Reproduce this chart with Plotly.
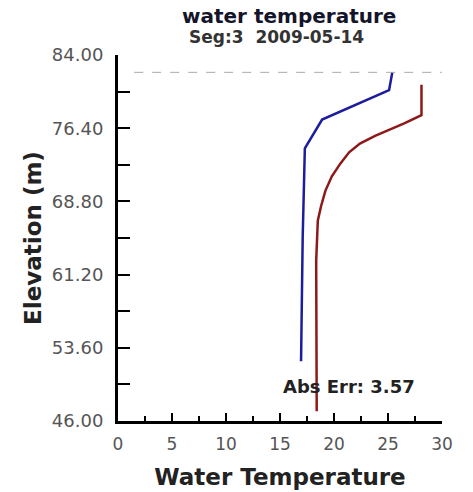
import plotly.graph_objects as go

# Data
model_temp = [25.4, 25.1, 18.9, 17.3, 17.1, 16.95]
model_elev = [82.2, 80.35, 77.3, 74.3, 65.0, 52.2]

obs_temp = [28.1, 28.1, 26.5, 25.2, 23.8, 22.4, 21.4, 20.6, 19.8, 19.2, 18.8, 18.5, 18.4, 18.35, 18.4]
obs_elev = [80.9, 77.75, 76.9, 76.3, 75.6, 74.8, 73.9, 72.75, 71.4, 69.9, 68.3, 66.8, 64.5, 62.6, 47.0]

surface_elev = 82.2
y_ticks = [46.00, 53.60, 61.20, 68.80, 76.40, 84.00]
x_ticks = [0, 5, 10, 15, 20, 25, 30]
abs_err = 3.57

FONT = "DejaVu Sans, Verdana, sans-serif"

fig = go.Figure()
fig.add_trace(go.Scatter(x=model_temp, y=model_elev, mode="lines",
                         line=dict(color="#1c1c9c", width=2.5), name="model",
                         showlegend=False))
fig.add_trace(go.Scatter(x=obs_temp, y=obs_elev, mode="lines",
                         line=dict(color="#8c1a1a", width=2.5),
                         name="observed", showlegend=False))

fig.add_shape(type="line", xref="paper", x0=0.05, x1=1.0, yref="y",
              y0=surface_elev, y1=surface_elev,
              line=dict(color="#aaaaaa", width=1, dash="dash"))

fig.add_annotation(text="<b>Abs Err: %.2f</b>" % abs_err, x=15.1, y=49.6,
                   xref="x", yref="y", xanchor="left", yanchor="middle",
                   showarrow=False, font=dict(family=FONT, size=18, color="#222"))

fig.add_annotation(text="<b>water temperature</b>", x=0.529, y=1, xref="paper", yref="paper",
                   xanchor="center", yanchor="middle", yshift=39, showarrow=False,
                   font=dict(family=FONT, size=20, color="#15152a"))
fig.add_annotation(text="<b>Seg:3&nbsp;&nbsp;2009-05-14</b>", x=0.489, y=1, xref="paper", yref="paper",
                   xanchor="center", yanchor="middle", yshift=18, showarrow=False,
                   font=dict(family=FONT, size=17, color="#333"))

fig.update_layout(
    width=473, height=492,
    margin=dict(l=118, r=31, t=55, b=71, autoexpand=False),
    plot_bgcolor="white", paper_bgcolor="white",
    font=dict(family=FONT),
    xaxis=dict(range=[0, 30], tickvals=x_ticks, ticks="inside", ticklen=8, tickwidth=1.5,
               tickcolor="black", showline=True, linecolor="black", linewidth=3,
               showgrid=False, zeroline=False, ticklabelstandoff=6,
               tickfont=dict(size=17, color="#555"),
               minor=dict(ticks="inside", ticklen=5, tickwidth=1.5, tickcolor="black", dtick=2.5, tick0=0, showgrid=False),
               title=dict(text="<b>Water Temperature</b>", font=dict(size=23, color="#222"), standoff=16)),
    yaxis=dict(range=[46, 84], tickvals=y_ticks, tickformat=".2f", ticks="inside", ticklen=12,
               tickwidth=1.5, tickcolor="black", showline=True, linecolor="black", linewidth=3,
               showgrid=False, zeroline=False, ticklabelstandoff=8,
               tickfont=dict(size=18, color="#555"),
               minor=dict(ticks="inside", ticklen=12, tickwidth=1.5, tickcolor="black", dtick=3.8, tick0=46, showgrid=False),
               title=dict(text="<b>Elevation (m)</b>", font=dict(size=23, color="#222"), standoff=4)),
)

fig.write_html("out.html", config={"displayModeBar": False},
               post_script="document.body.style.margin='0';")
